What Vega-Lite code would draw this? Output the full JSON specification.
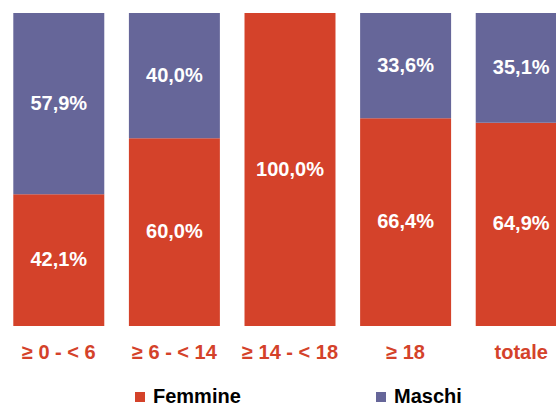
{
  "$schema": "https://vega.github.io/schema/vega-lite/v6.json",
  "width": 556,
  "height": 313,
  "autosize": {"type": "none"},
  "padding": {"left": 0, "top": 13, "right": 0, "bottom": 79},
  "config": {
    "view": {"stroke": null},
    "font": "Liberation Sans",
    "locale": {"number": {"decimal": ",", "thousands": ".", "grouping": [3], "currency": ["", " €"]}}
  },
  "data": {
    "values": [
      {"gruppo": "≥ 0 - < 6", "sesso": "Femmine", "quota": 0.421},
      {"gruppo": "≥ 0 - < 6", "sesso": "Maschi", "quota": 0.579},
      {"gruppo": "≥ 6 - < 14", "sesso": "Femmine", "quota": 0.6},
      {"gruppo": "≥ 6 - < 14", "sesso": "Maschi", "quota": 0.4},
      {"gruppo": "≥ 14 - < 18", "sesso": "Femmine", "quota": 1.0},
      {"gruppo": "≥ 14 - < 18", "sesso": "Maschi", "quota": 0.0},
      {"gruppo": "≥ 18", "sesso": "Femmine", "quota": 0.664},
      {"gruppo": "≥ 18", "sesso": "Maschi", "quota": 0.336},
      {"gruppo": "totale", "sesso": "Femmine", "quota": 0.649},
      {"gruppo": "totale", "sesso": "Maschi", "quota": 0.351}
    ]
  },
  "encoding": {
    "x": {
      "field": "gruppo",
      "type": "nominal",
      "sort": null,
      "scale": {"range": [0, 580], "paddingInner": 0.213, "paddingOuter": 0.115},
      "axis": {
        "title": null,
        "domain": false,
        "ticks": false,
        "labelAngle": 0,
        "labelColor": "#D4422A",
        "labelFont": "Liberation Sans",
        "labelFontWeight": "bold",
        "labelFontSize": 20,
        "labelPadding": 16
      }
    }
  },
  "layer": [
    {
      "mark": {"type": "bar", "clip": true},
      "encoding": {
        "y": {"field": "quota", "type": "quantitative", "stack": "zero", "scale": {"domain": [0, 1]}, "axis": null},
        "order": {"field": "sesso", "sort": "ascending"},
        "color": {
          "field": "sesso",
          "type": "nominal",
          "scale": {"domain": ["Femmine", "Maschi"], "range": ["#D4422A", "#666699"]},
          "legend": {
            "title": null,
            "orient": "none",
            "direction": "horizontal",
            "legendX": 130,
            "legendY": 374,
            "symbolType": "square",
            "symbolSize": 100,
            "symbolStrokeWidth": 0,
            "symbolOpacity": 1,
            "labelFont": "Liberation Sans",
            "labelFontWeight": "bold",
            "labelFontSize": 20,
            "labelColor": "#000000",
            "labelOffset": 3,
            "columnPadding": 130,
            "padding": 0
          }
        }
      }
    },
    {
      "transform": [
        {"stack": "quota", "groupby": ["gruppo"], "sort": [{"field": "sesso", "order": "ascending"}], "as": ["q0", "q1"]},
        {"fold": ["q0", "q1"], "as": ["estremo", "pos"]},
        {"aggregate": [{"op": "mean", "field": "pos", "as": "centro"}], "groupby": ["gruppo", "sesso", "quota"]},
        {"filter": "datum.quota > 0"}
      ],
      "mark": {"type": "text", "color": "#FFFFFF", "fontWeight": "bold", "fontSize": 20, "font": "Liberation Sans", "baseline": "middle", "clip": true},
      "encoding": {
        "y": {"field": "centro", "type": "quantitative", "scale": {"domain": [0, 1]}, "axis": null},
        "text": {"field": "quota", "type": "quantitative", "format": ".1%"}
      }
    }
  ]
}
